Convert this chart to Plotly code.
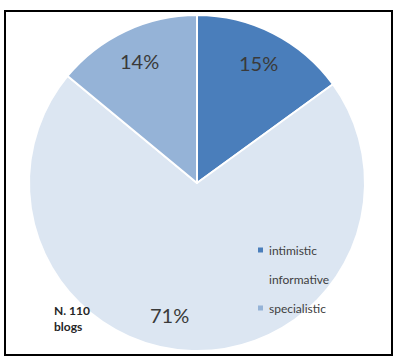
import math
import plotly.graph_objects as go

# ---- data ----
categories = ["intimistic", "informative", "specialistic"]
shares = [15, 71, 14]
colors = ["#4A7EBB", "#DCE6F2", "#95B3D7"]
note_text = "N. 110<br>blogs"

# ---- layout constants (pixels) ----
W, H = 394, 358
CX, CY, R = 197, 183, 168

def px(x):
    return x / W

def py(y):
    return 1 - y / H

fig = go.Figure(go.Pie(
    labels=categories,
    values=shares,
    sort=False,
    direction="clockwise",
    rotation=0,
    marker=dict(colors=colors, line=dict(color="white", width=2)),
    textinfo="none",
    hoverinfo="label+percent",
    showlegend=False,
    domain=dict(x=[px(CX - R), px(CX + R)], y=[py(CY + R), py(CY - R)]),
))

annotations = []
# percentage labels placed along each slice's mid-angle
total = sum(shares)
label_nudge = {1: 10}  # degrees, clockwise nudge for the big slice label
cum = 0
for i, v in enumerate(shares):
    mid = (cum + v / 2) / total * 360 + label_nudge.get(i, 0)
    cum += v
    rr = 0.8 * R
    lx = CX + rr * math.sin(math.radians(mid))
    ly = CY - rr * math.cos(math.radians(mid))
    annotations.append(dict(
        x=px(lx), y=py(ly), xref="paper", yref="paper",
        text=f"{round(v / total * 100)}%", showarrow=False,
        font=dict(family="Lato, Open Sans, sans-serif", size=20, color="#3A3A3A"),
        xanchor="center", yanchor="middle",
    ))

# manual legend
LEG_X, LEG_Y0, LEG_DY = 261, 250, 29
for i, (c, col) in enumerate(zip(categories, colors)):
    y = LEG_Y0 + i * LEG_DY
    annotations.append(dict(
        x=px(LEG_X + 6), y=py(y), xref="paper", yref="paper",
        text=c, showarrow=False,
        font=dict(family="Lato, Open Sans, sans-serif", size=12, color="#404040"),
        xanchor="left", yanchor="middle",
    ))

shapes = []
for i, col in enumerate(colors):
    y = LEG_Y0 + i * LEG_DY
    shapes.append(dict(
        type="rect", xref="paper", yref="paper",
        x0=px(LEG_X - 3), x1=px(LEG_X + 2), y0=py(y + 2.5), y1=py(y - 2.5),
        fillcolor=col, line=dict(width=0),
    ))

# note
annotations.append(dict(
    x=px(52), y=py(318), xref="paper", yref="paper",
    text=f"<b>{note_text}</b>", showarrow=False, align="left",
    font=dict(family="Lato, Open Sans, sans-serif", size=12, color="#262626"),
    xanchor="left", yanchor="middle",
))

# frame
shapes.append(dict(
    type="rect", xref="paper", yref="paper",
    x0=px(5), x1=px(392), y0=py(355), y1=py(11),
    line=dict(color="black", width=2), fillcolor="rgba(0,0,0,0)",
))

fig.update_layout(
    width=W, height=H,
    margin=dict(l=0, r=0, t=0, b=0),
    paper_bgcolor="white",
    plot_bgcolor="white",
    annotations=annotations,
    shapes=shapes,
)

fig.write_html(
    "out.html",
    config={"displayModeBar": False},
    post_script="document.body.style.margin='0';document.body.style.overflow='hidden';",
)
